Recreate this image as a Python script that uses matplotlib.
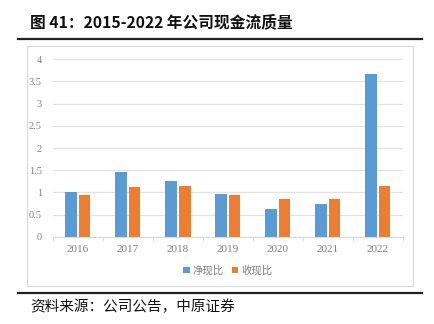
import matplotlib
matplotlib.use('Agg')
import matplotlib.pyplot as plt
import numpy as np
from matplotlib.patches import Rectangle
from matplotlib.lines import Line2D

plt.rcParams['font.family'] = ['Noto Sans CJK SC', 'DejaVu Sans']

years = ["2016", "2017", "2018", "2019", "2020", "2021", "2022"]
net_ratio = [1.01, 1.45, 1.25, 0.96, 0.62, 0.74, 3.67]   # 净现比
cash_ratio = [0.94, 1.12, 1.14, 0.95, 0.85, 0.85, 1.14]  # 收现比
yticks = [0, 0.5, 1, 1.5, 2, 2.5, 3, 3.5, 4]
ytick_labels = ["0", "0.5", "1", "1.5", "2", "2.5", "3", "3.5", "4"]

W, H = 435, 324
fig = plt.figure(figsize=(W / 100, H / 100), dpi=100)


def fx(x):
    return x / W


def fy(y):
    return 1 - y / H


# title and rules
fig.text(fx(30), fy(22), "图 41：2015-2022 年公司现金流质量", fontsize=11.3,
         fontweight='bold', va='center', ha='left', color='#111111')
fig.add_artist(Line2D([fx(18), fx(422)], [fy(38.5), fy(38.5)], color='#222222', lw=1.6))
fig.add_artist(Line2D([fx(18), fx(422)], [fy(293), fy(293)], color='#222222', lw=1.6))
fig.text(fx(30), fy(307), "资料来源：公司公告，中原证券", fontsize=10.5,
         va='center', ha='left', color='#111111')

# chart frame
fig.add_artist(Rectangle((fx(27), fy(286)), fx(413) - fx(27), fy(46) - fy(286),
                         transform=fig.transFigure, fill=False,
                         edgecolor='#d9d9d9', lw=0.8))

ax = fig.add_axes([fx(53), fy(236.7), fx(403) - fx(53), fy(59.3) - fy(236.7)])
x = np.arange(len(years))
w = 0.23
ax.bar(x - w / 2 - 0.02, net_ratio, w, color='#5B9BD5', label='净现比')
ax.bar(x + w / 2 + 0.02, cash_ratio, w, color='#ED7D31', label='收现比')

ax.set_xlim(-0.5, len(years) - 0.5)
ax.set_ylim(0, 4)
ax.set_yticks(yticks)
ax.set_yticklabels(ytick_labels, family=['Liberation Serif'], fontsize=7.5, color='#7f7f7f')
ax.set_xticks(x)
ax.set_xticklabels(years, family=['Liberation Serif'], fontsize=8, color='#7f7f7f')
ax.set_xticks(np.arange(-0.5, len(years)), minor=True)
ax.tick_params(axis='x', which='major', length=0, pad=6)
ax.tick_params(axis='x', which='minor', length=3, color='#d9d9d9')
ax.tick_params(axis='y', length=0, pad=8)
ax.grid(axis='y', color='#e3e3e3', lw=0.9)
ax.set_axisbelow(True)
for s in ['top', 'right', 'left']:
    ax.spines[s].set_visible(False)
ax.spines['bottom'].set_color('#d9d9d9')

ax.legend(loc='center', bbox_to_anchor=(0.5, -0.19), ncol=2, frameon=False,
          fontsize=7.5, handlelength=0.6, handleheight=0.6, handletextpad=0.3,
          columnspacing=0.8, labelcolor='#7f7f7f')

plt.savefig('out.png', dpi=100)
